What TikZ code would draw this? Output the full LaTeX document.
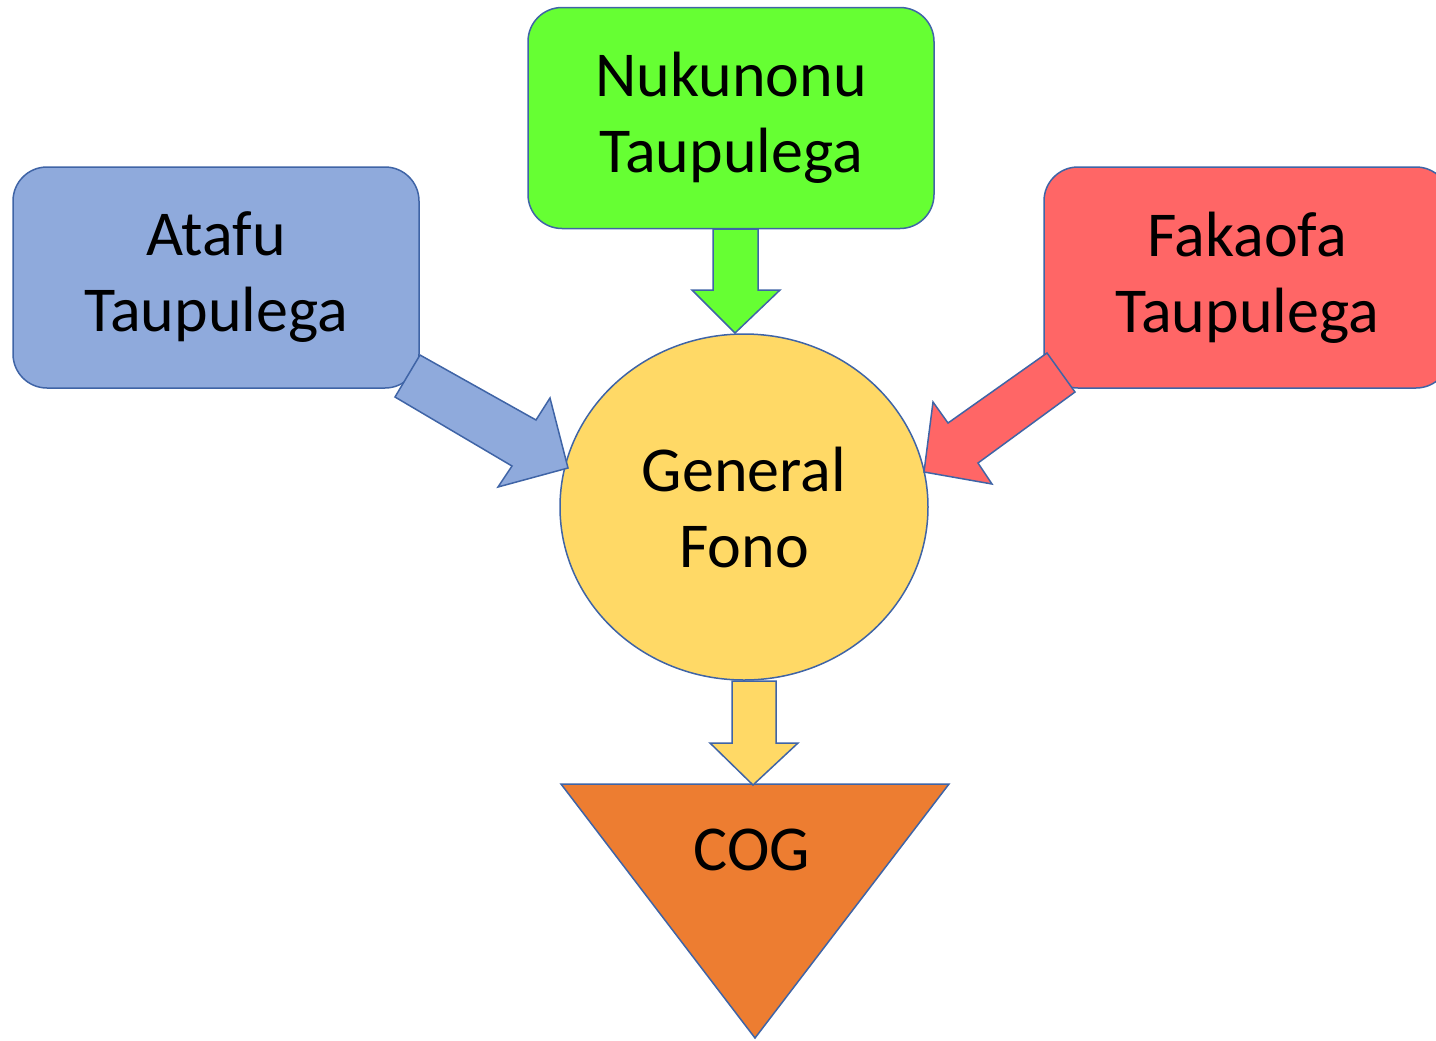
\documentclass[tikz,border=0pt]{standalone}
\usepackage{fontspec}
\setmainfont{Carlito}
\usetikzlibrary{shapes.geometric}
\definecolor{edgeblue}{HTML}{3F64A6}
\definecolor{atafufill}{HTML}{8FAADC}
\definecolor{nukufill}{HTML}{66FF33}
\definecolor{fakafill}{HTML}{FF6666}
\definecolor{fonofill}{HTML}{FFD966}
\definecolor{cogfill}{HTML}{ED7D31}
\tikzset{
  shapeline/.style={draw=edgeblue, line width=0.75pt, line join=miter},
  bigtext/.style={font=\fontsize{32}{38}\selectfont, align=center, text=black},
  islandbox/.style={shapeline, bigtext, rectangle, rounded corners=17pt,
     minimum width=203pt, minimum height=110.5pt, inner sep=0pt},
  fonoshape/.style={shapeline, bigtext, ellipse, minimum width=184pt,
     minimum height=173pt, inner sep=0pt},
  blockarrow/.style={shapeline}
}
\begin{document}
\begin{tikzpicture}[x=0.5pt, y=-0.5pt]
\useasboundingbox (0,0) rectangle (1436,1040);
\clip (0,0) rectangle (1436,1040);
% boxes
\node[islandbox, fill=atafufill] (atafu) at (216,277.5) {Atafu\\Taupulega};
\node[islandbox, fill=nukufill] (nuku) at (731,118) {Nukunonu\\Taupulega};
\node[islandbox, fill=fakafill, minimum width=203pt] (faka) at (1247,277.5) {Fakaofa\\Taupulega};
\node[fonoshape, fill=fonofill] (fono) at (744,507) {General\\Fono};
% triangle
\draw[shapeline, fill=cogfill] (561,784) -- (949,784) -- (755,1038) -- cycle;
\node[bigtext] (cog) at (752,850) {COG};
% block arrows
\draw[blockarrow, fill=nukufill]
  (713,229) -- (758,229) -- (758,290) -- (780,290) -- (735,333) -- (692,290) -- (713,290) -- cycle;
\draw[blockarrow, fill=fonofill]
  (732,681) -- (776,681) -- (776,743) -- (798,743) -- (753,785) -- (710,743) -- (732,743) -- cycle;
\draw[blockarrow, fill=atafufill]
  (420,355) -- (536,420) -- (550,398) -- (568,468) -- (498,487) -- (512,466) -- (395,397) -- cycle;
\draw[blockarrow, fill=fakafill]
  (1047,353) -- (1075,392) -- (978,463) -- (992,484) -- (924,472) -- (933,402) -- (948,423) -- cycle;
\end{tikzpicture}
\end{document}
